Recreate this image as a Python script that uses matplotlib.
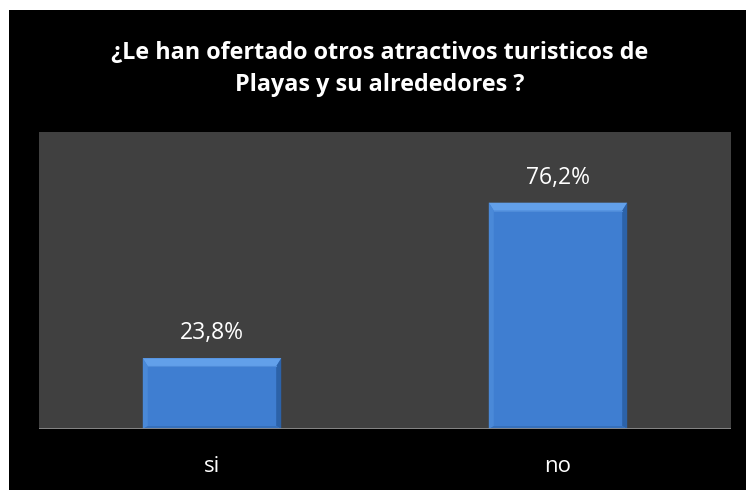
import matplotlib.pyplot as plt
from matplotlib.patches import Polygon

categories = ['si', 'no']
values = [23.8, 76.2]
value_labels = ['23,8%', '76,2%']
title = '¿Le han ofertado otros atractivos turisticos de\nPlayas y su alrededores ?'

W, H = 748, 491
fig = plt.figure(figsize=(W / 100, H / 100), dpi=100)
fig.patch.set_facecolor('white')

# black chart frame behind everything
frame = fig.add_axes([9 / W, 1 - 490 / H, 737 / W, 480 / H], zorder=-1)
frame.set_facecolor('black')
frame.set_xticks([])
frame.set_yticks([])
for s in frame.spines.values():
    s.set_visible(False)

# plot area in pixels: left 39, right 731, top 132, bottom 429
left, right, top, bottom = 39, 731, 132, 429
ax = fig.add_axes([left / W, 1 - bottom / H, (right - left) / W, (bottom - top) / H])
ax.set_facecolor('#404040')
ax.set_xlim(-0.5, 1.5)
ax.set_ylim(0, 100)
for s in ax.spines.values():
    s.set_visible(False)
ax.set_xticks([])
ax.set_yticks([])

bar_w = 0.40
bars = ax.bar(range(len(values)), values, width=bar_w, color='#3f7ed1', zorder=2)

# pixel -> data scale, for the bevel edges
px_x = (right - left) / 2.0
px_y = (bottom - top) / 100.0
bt = 8 / px_y   # top bevel height
bs = 5 / px_x   # side bevel width
bb = 3 / px_y   # bottom bevel

for b in bars:
    x0, x1 = b.get_x(), b.get_x() + b.get_width()
    y0, y1 = 0, b.get_height()
    top_poly = [(x0, y1), (x1, y1), (x1 - bs, y1 - bt), (x0 + bs, y1 - bt)]
    left_poly = [(x0, y0), (x0, y1), (x0 + bs, y1 - bt), (x0 + bs, y0 + bb)]
    right_poly = [(x1, y0), (x1, y1), (x1 - bs, y1 - bt), (x1 - bs, y0 + bb)]
    bot_poly = [(x0, y0), (x1, y0), (x1 - bs, y0 + bb), (x0 + bs, y0 + bb)]
    ax.add_patch(Polygon(top_poly, facecolor='#62a0ea', edgecolor='none', zorder=3))
    ax.add_patch(Polygon(left_poly, facecolor='#4a89d8', edgecolor='none', zorder=3))
    ax.add_patch(Polygon(right_poly, facecolor='#2c62a8', edgecolor='none', zorder=3))
    ax.add_patch(Polygon(bot_poly, facecolor='#3670bb', edgecolor='none', zorder=3))
    ax.plot([x0 + bs, x1 - bs], [y1 - bt, y1 - bt], color='#4f8cd9', lw=0.8, zorder=4)

# category axis line
ax.axhline(0, color='#8c8c8c', lw=2, zorder=5)

for i, (v, lab) in enumerate(zip(values, value_labels)):
    ax.annotate(lab, (i, v), xytext=(0, 13.7), textcoords='offset points',
                ha='center', va='baseline', color='white', fontsize=16.5,
                family='Open Sans')
    fig.text((left + (i + 0.5) * px_x) / W, 1 - 472 / H, categories[i],
             ha='center', va='baseline', color='white', fontsize=16,
             family='Open Sans')

fig.text(380 / W, 1 - 69 / H, title, ha='center', va='center', color='white',
         fontsize=16.8, fontweight='bold', family='Open Sans', linespacing=1.45)

fig.savefig('out.png', dpi=100, facecolor=fig.get_facecolor())
